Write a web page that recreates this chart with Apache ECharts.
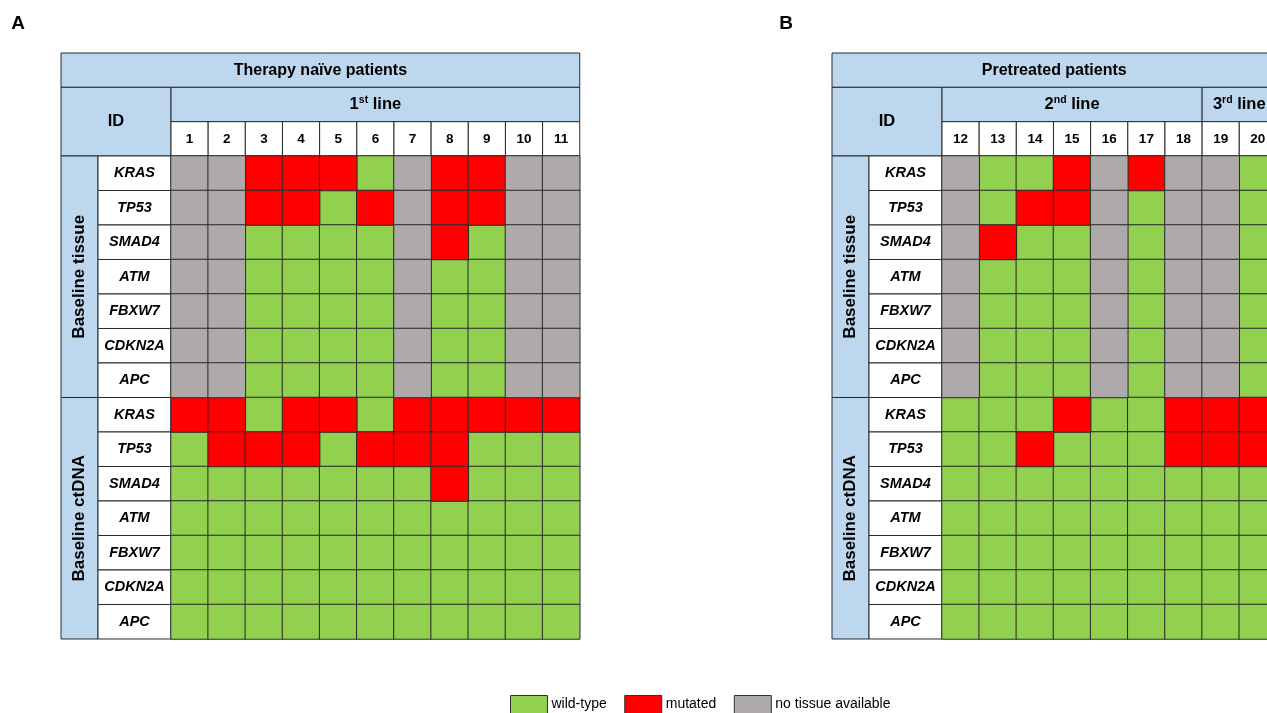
<!DOCTYPE html>
<html><head><meta charset="utf-8">
<script src="https://cdn.jsdelivr.net/npm/echarts@6/dist/echarts.min.js"></script>
<style>html,body{margin:0;padding:0;background:#fff;overflow:hidden}#c{width:1300px;height:713px}</style>
</head><body><div id="c"></div>
<script>
// ---------- data ----------
const genes = ['KRAS', 'TP53', 'SMAD4', 'ATM', 'FBXW7', 'CDKN2A', 'APC'];
const sections = ['Baseline tissue', 'Baseline ctDNA'];
const statusNames = ['wild-type', 'mutated', 'no tissue available'];
const patientsA = ['1', '2', '3', '4', '5', '6', '7', '8', '9', '10', '11'];
const patientsB = ['12', '13', '14', '15', '16', '17', '18', '19', '20'];
const titleA = 'Therapy naïve patients';
const titleB = 'Pretreated patients';
// therapy line groups: [number, superscript, number of patients]
const linesA = [['1', 'st', 11]];
const linesB = [['2', 'nd', 7], ['3', 'rd', 2]];
// status codes: 0 wild-type, 1 mutated, 2 no tissue available (rows = genes, cols = patients)
const tissueA = [
  [2, 2, 1, 1, 1, 0, 2, 1, 1, 2, 2],
  [2, 2, 1, 1, 0, 1, 2, 1, 1, 2, 2],
  [2, 2, 0, 0, 0, 0, 2, 1, 0, 2, 2],
  [2, 2, 0, 0, 0, 0, 2, 0, 0, 2, 2],
  [2, 2, 0, 0, 0, 0, 2, 0, 0, 2, 2],
  [2, 2, 0, 0, 0, 0, 2, 0, 0, 2, 2],
  [2, 2, 0, 0, 0, 0, 2, 0, 0, 2, 2]
];
const ctdnaA = [
  [1, 1, 0, 1, 1, 0, 1, 1, 1, 1, 1],
  [0, 1, 1, 1, 0, 1, 1, 1, 0, 0, 0],
  [0, 0, 0, 0, 0, 0, 0, 1, 0, 0, 0],
  [0, 0, 0, 0, 0, 0, 0, 0, 0, 0, 0],
  [0, 0, 0, 0, 0, 0, 0, 0, 0, 0, 0],
  [0, 0, 0, 0, 0, 0, 0, 0, 0, 0, 0],
  [0, 0, 0, 0, 0, 0, 0, 0, 0, 0, 0]
];
const tissueB = [
  [2, 0, 0, 1, 2, 1, 2, 2, 0],
  [2, 0, 1, 1, 2, 0, 2, 2, 0],
  [2, 1, 0, 0, 2, 0, 2, 2, 0],
  [2, 0, 0, 0, 2, 0, 2, 2, 0],
  [2, 0, 0, 0, 2, 0, 2, 2, 0],
  [2, 0, 0, 0, 2, 0, 2, 2, 0],
  [2, 0, 0, 0, 2, 0, 2, 2, 0]
];
const ctdnaB = [
  [0, 0, 0, 1, 0, 0, 1, 1, 1],
  [0, 0, 1, 0, 0, 0, 1, 1, 1],
  [0, 0, 0, 0, 0, 0, 0, 0, 0],
  [0, 0, 0, 0, 0, 0, 0, 0, 0],
  [0, 0, 0, 0, 0, 0, 0, 0, 0],
  [0, 0, 0, 0, 0, 0, 0, 0, 0],
  [0, 0, 0, 0, 0, 0, 0, 0, 0]
];

// ---------- style / layout ----------
const FONT = '"Liberation Sans", Arial, Helvetica, sans-serif';
const statusColors = ['#92D050', '#FF0000', '#AEAAAA'];
const HEAD = '#BDD7EE';
const LINE = '#2a2a2a';
const TOP = 53, HEAD_H = 34.33, ROW_H = 34.5, COL_W = 37.16, GROUP_W = 37, GENE_W = 73;
const DATA_TOP = TOP + 3 * HEAD_H;

const yCats = [];
sections.forEach(s => genes.forEach(g => yCats.push(s + '|' + g)));

const panels = [
  { letter: 'A', lx: 18, x0: 61, title: titleA, patients: patientsA, lines: linesA, tissue: tissueA, ctdna: ctdnaA },
  { letter: 'B', lx: 786, x0: 832, title: titleB, patients: patientsB, lines: linesB, tissue: tissueB, ctdna: ctdnaB }
];

const graphics = [];
const grids = [], xAxes = [], yAxes = [], series = [];

function rect(x, y, w, h, fill) {
  graphics.push({ type: 'rect', z: 0, silent: true, shape: { x: x, y: y, width: w, height: h },
    style: { fill: fill, stroke: LINE, lineWidth: 1 } });
}
function text(x, y, t, size, extra) {
  graphics.push(Object.assign({ type: 'text', z: 20, silent: true, x: x, y: y,
    style: { text: t, fontFamily: FONT, fontSize: size, fontWeight: 'bold', fill: '#000', align: 'center', verticalAlign: 'middle' } }, extra || {}));
}

panels.forEach((p, gi) => {
  const n = p.patients.length;
  const px = p.x0 + GROUP_W + GENE_W;
  const right = px + n * COL_W;
  const bottom = DATA_TOP + yCats.length * ROW_H;
  // panel letter
  text(p.lx, 24, p.letter, 19);
  // title row
  rect(p.x0, TOP, right - p.x0, HEAD_H, HEAD);
  text((p.x0 + right) / 2, TOP + HEAD_H / 2, p.title, 16);
  // ID cell
  rect(p.x0, TOP + HEAD_H, GROUP_W + GENE_W, 2 * HEAD_H, HEAD);
  text(p.x0 + (GROUP_W + GENE_W) / 2, TOP + 2 * HEAD_H, 'ID', 16.5);
  // therapy line cells
  let c = 0;
  p.lines.forEach(l => {
    const x = px + c * COL_W, w = l[2] * COL_W;
    rect(x, TOP + HEAD_H, w, HEAD_H, HEAD);
    graphics.push({ type: 'text', z: 20, silent: true, x: x + w / 2, y: TOP + 1.5 * HEAD_H,
      style: { text: '{n|' + l[0] + '}{s|' + l[1] + '}{n| line}', align: 'center', verticalAlign: 'middle',
        rich: { n: { fontFamily: FONT, fontSize: 16.5, fontWeight: 'bold', fill: '#000', lineHeight: 20 },
                s: { fontFamily: FONT, fontSize: 10.5, fontWeight: 'bold', fill: '#000', lineHeight: 12, verticalAlign: 'top' } } } });
    c += l[2];
  });
  // patient number cells (labels come from the x axis)
  for (let i = 0; i < n; i++) rect(px + i * COL_W, TOP + 2 * HEAD_H, COL_W, HEAD_H, '#FFFFFF');
  // section group cells
  sections.forEach((s, si) => {
    const y = DATA_TOP + si * genes.length * ROW_H, h = genes.length * ROW_H;
    rect(p.x0, y, GROUP_W, h, HEAD);
    text(p.x0 + GROUP_W / 2, y + h / 2, s, 17, { rotation: Math.PI / 2 });
    for (let r = 0; r < genes.length; r++) rect(p.x0 + GROUP_W, y + r * ROW_H, GENE_W, ROW_H, '#FFFFFF');
  });

  grids.push({ left: px, top: DATA_TOP, width: n * COL_W, height: bottom - DATA_TOP, containLabel: false, outerBoundsMode: 'none' });
  xAxes.push({ type: 'category', gridIndex: gi, data: p.patients, position: 'top', z: 10,
    axisLine: { show: false }, axisTick: { show: false }, splitLine: { show: false },
    axisLabel: { interval: 0, margin: HEAD_H / 2, verticalAlign: 'middle', fontFamily: FONT, fontSize: 13.5, fontWeight: 'bold', color: '#000', hideOverlap: false } });
  yAxes.push({ type: 'category', gridIndex: gi, data: yCats, inverse: true, z: 10,
    axisLine: { show: false }, axisTick: { show: false }, splitLine: { show: false },
    axisLabel: { interval: 0, align: 'center', margin: GENE_W / 2, fontFamily: FONT, fontSize: 14.5, fontWeight: 'bold', fontStyle: 'italic', color: '#000',
      formatter: v => v.split('|')[1] } });

  const mats = [p.tissue, p.ctdna];
  statusNames.forEach((name, s) => {
    const data = [];
    mats.forEach((m, mi) => m.forEach((row, r) => row.forEach((v, ci) => {
      if (v === s) data.push([ci, mi * genes.length + r, v]);
    })));
    series.push({ type: 'heatmap', name: name, xAxisIndex: gi, yAxisIndex: gi, data: data,
      itemStyle: { color: statusColors[s], borderColor: LINE, borderWidth: 1 },
      emphasis: { disabled: true }, label: { show: false }, silent: true });
  });
});

const chart = echarts.init(document.getElementById('c'), null, { renderer: 'canvas' });
chart.setOption({
  animation: false,
  backgroundColor: '#FFFFFF',
  grid: grids, xAxis: xAxes, yAxis: yAxes, series: series,
  graphic: { elements: graphics },
  legend: { data: statusNames, left: 510, top: 695, padding: 0, icon: 'rect', itemWidth: 37, itemHeight: 18, itemGap: 17.5,
    selectedMode: false,
    itemStyle: { borderColor: '#333', borderWidth: 1 },
    textStyle: { fontFamily: FONT, fontSize: 14, color: '#000', padding: [3, 0, 0, -1] } }
});
</script></body></html>
